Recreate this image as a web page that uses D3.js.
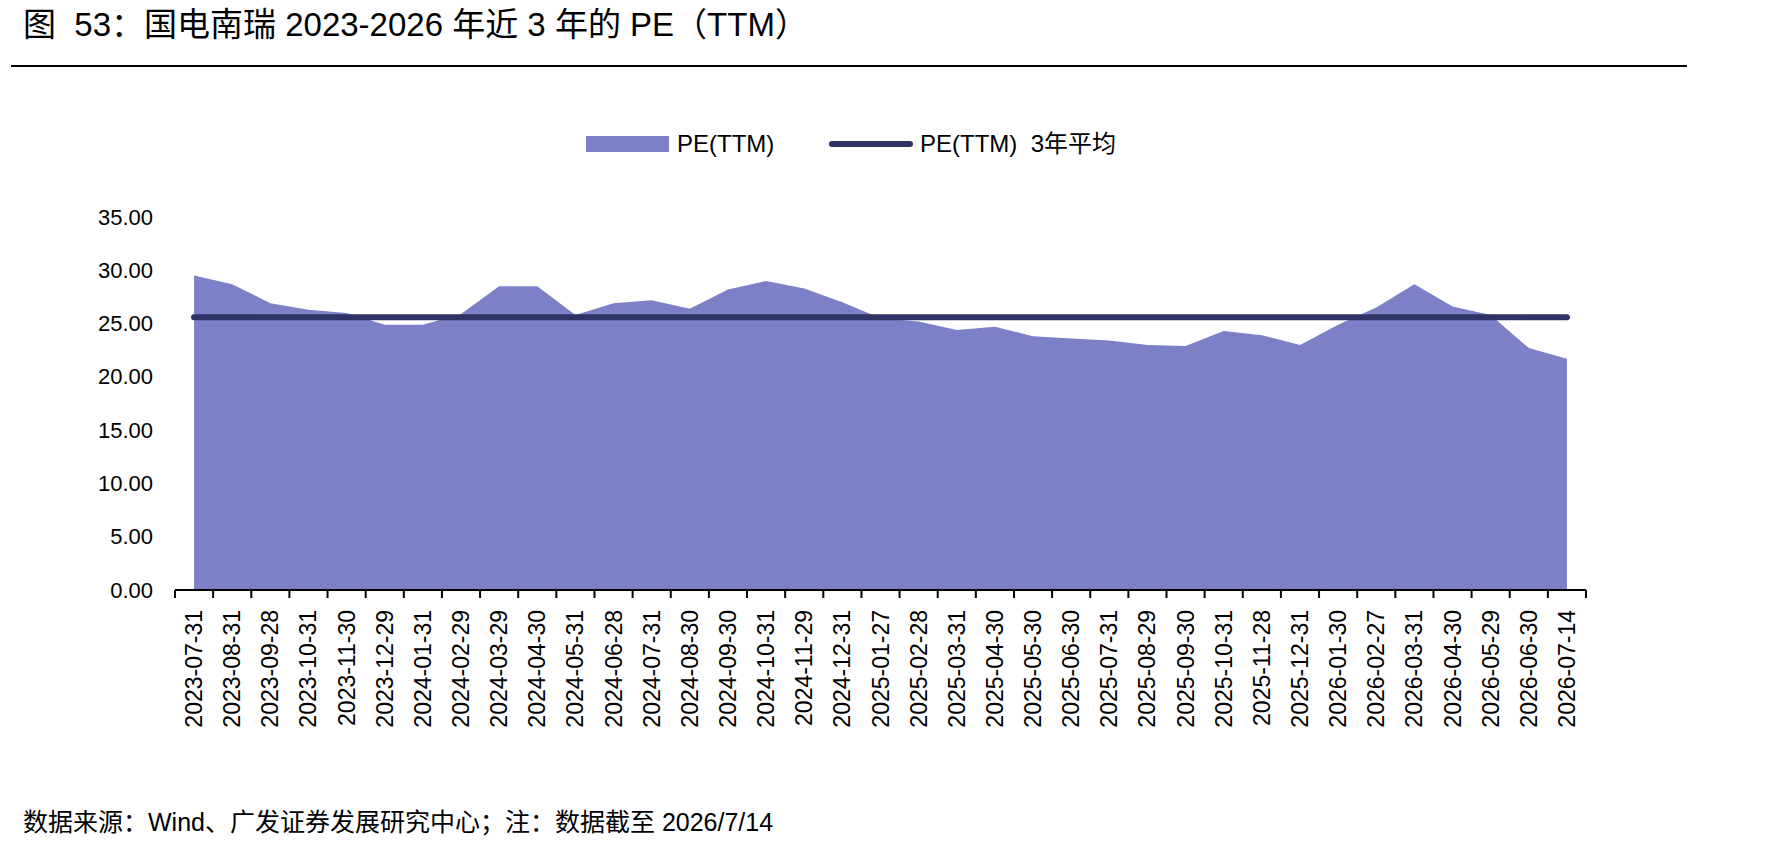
<!DOCTYPE html>
<html>
<head>
<meta charset="utf-8">
<script src="https://cdn.jsdelivr.net/npm/d3@7"></script>
<style>
  html, body { margin: 0; padding: 0; background: #fff; }
  svg { display: block; }
  text { font-family: "Liberation Sans", Arial, "Noto Sans CJK SC", sans-serif; fill: #000; }
</style>
</head>
<body>
<svg id="chart" width="1790" height="853"></svg>
<script>
const titleText = "图  53：国电南瑞 2023-2026 年近 3 年的 PE（TTM）";
const footerText = "数据来源：Wind、广发证券发展研究中心；注：数据截至 2026/7/14";
const seriesNames = ["PE(TTM)", "PE(TTM)  3年平均"];
const categories = [
  "2023-07-31","2023-08-31","2023-09-28","2023-10-31","2023-11-30","2023-12-29",
  "2024-01-31","2024-02-29","2024-03-29","2024-04-30","2024-05-31","2024-06-28",
  "2024-07-31","2024-08-30","2024-09-30","2024-10-31","2024-11-29","2024-12-31",
  "2025-01-27","2025-02-28","2025-03-31","2025-04-30","2025-05-30","2025-06-30",
  "2025-07-31","2025-08-29","2025-09-30","2025-10-31","2025-11-28","2025-12-31",
  "2026-01-30","2026-02-27","2026-03-31","2026-04-30","2026-05-29","2026-06-30",
  "2026-07-14"
];
const peValues = [
  29.5, 28.7, 26.9, 26.3, 26.0, 24.9,
  24.9, 25.9, 28.5, 28.5, 25.8, 26.9,
  27.2, 26.4, 28.2, 29.0, 28.3, 27.0,
  25.5, 25.2, 24.4, 24.7, 23.8, 23.6,
  23.4, 23.0, 22.9, 24.3, 23.9, 23.0,
  24.9, 26.5, 28.7, 26.6, 25.8, 22.7,
  21.7
];
const avgValue = 25.6;
const yTicks = [0, 5, 10, 15, 20, 25, 30, 35];

const svg = d3.select("#chart");
const cjk = '"Liberation Sans", Arial, "Noto Sans CJK SC", sans-serif';

// Title
svg.append("text").attr("x", 23).attr("y", 36)
  .attr("font-size", 33)
  .style("white-space", "pre")
  .text(titleText);
svg.append("line").attr("x1", 11).attr("x2", 1687).attr("y1", 66).attr("y2", 66)
  .attr("stroke", "#000").attr("stroke-width", 2);

// Scales
const x = d3.scaleBand().domain(categories).range([175, 1586]).padding(0);
const y = d3.scaleLinear().domain([0, 35]).range([590, 217]);
const cx = d => x(d) + x.bandwidth() / 2;

const areaColor = "#7B80C7";
const lineColor = "#2E3366";

// Area
const data = categories.map((c, i) => ({c, v: peValues[i]}));
svg.append("path").datum(data)
  .attr("fill", areaColor)
  .attr("d", d3.area().x(d => cx(d.c)).y0(y(0)).y1(d => y(d.v)));

// Average line
svg.append("path").datum(categories)
  .attr("fill", "none").attr("stroke", lineColor).attr("stroke-width", 6)
  .attr("stroke-linecap", "round")
  .attr("d", d3.line().x(d => cx(d)).y(() => y(avgValue)));

// Y axis (labels only)
const yAxis = svg.append("g").attr("transform", "translate(175,0)")
  .call(d3.axisLeft(y).tickValues(yTicks).tickFormat(d3.format(".2f")).tickSize(0).tickPadding(22));
yAxis.select(".domain").remove();
yAxis.selectAll("text").attr("font-size", 22).attr("font-family", cjk).attr("fill", "#000");

// X axis
const xAxisG = svg.append("g").attr("transform", `translate(0,${y(0)})`);
xAxisG.append("line").attr("x1", 175).attr("x2", 1586).attr("y1", 0).attr("y2", 0)
  .attr("stroke", "#000").attr("stroke-width", 2);
const boundaries = categories.map(c => x(c)).concat([x(categories[categories.length - 1]) + x.bandwidth()]);
xAxisG.selectAll("line.tick").data(boundaries).enter().append("line")
  .attr("class", "tick")
  .attr("x1", d => d).attr("x2", d => d).attr("y1", 0).attr("y2", 8)
  .attr("stroke", "#000").attr("stroke-width", 2);
xAxisG.selectAll("text.lbl").data(categories).enter().append("text")
  .attr("class", "lbl")
  .attr("transform", d => `translate(${cx(d) + 8},${20}) rotate(-90)`)
  .attr("text-anchor", "end")
  .attr("font-size", 23)
  .text(d => d);

// Legend
const lg = svg.append("g");
lg.append("rect").attr("x", 586).attr("y", 136).attr("width", 83).attr("height", 16).attr("fill", areaColor);
lg.append("text").attr("x", 677).attr("y", 152).attr("font-size", 24).text(seriesNames[0]);
lg.append("line").attr("x1", 832).attr("x2", 910).attr("y1", 144).attr("y2", 144)
  .attr("stroke", lineColor).attr("stroke-width", 6).attr("stroke-linecap", "round");
lg.append("text").attr("x", 920).attr("y", 152).attr("font-size", 24)
  .style("white-space", "pre").text(seriesNames[1]);

// Footer
svg.append("text").attr("x", 23).attr("y", 831).attr("font-size", 25)
  .style("white-space", "pre").text(footerText);
</script>
</body>
</html>
